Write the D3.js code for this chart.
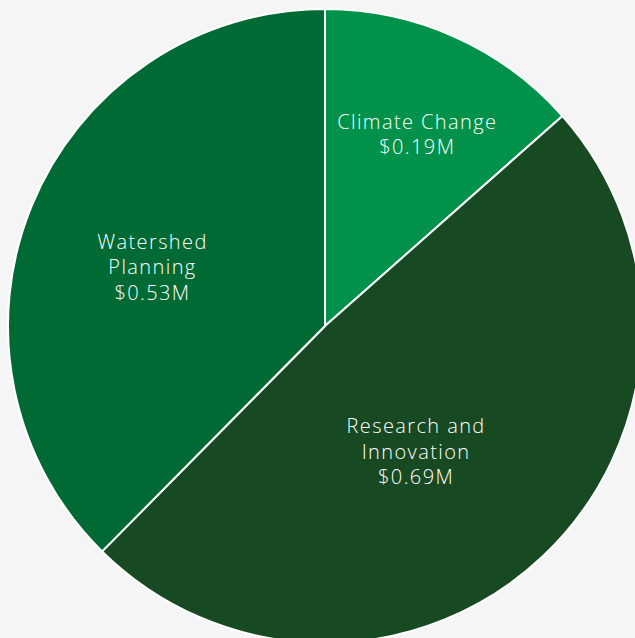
<!DOCTYPE html>
<html>
<head>
<meta charset="utf-8">
<script src="https://cdn.jsdelivr.net/npm/d3@7"></script>
<style>
  html, body { margin: 0; padding: 0; background: #f5f5f5; }
  svg { display: block; }
</style>
</head>
<body>
<svg id="chart" width="635" height="638"></svg>
<script>
// Funding by program area (millions of dollars)
const categories = ["Climate Change", "Research and Innovation", "Watershed Planning"];
const labelLines = [["Climate Change"], ["Research and", "Innovation"], ["Watershed", "Planning"]];
const values = [0.19, 0.69, 0.53];
const colors = ["#00924a", "#174a22", "#006a35"];

const width = 635, height = 638;
const cx = 325, cy = 326, radius = 317;

// Label anchor inside each slice: offset from the slice's mid-angle (degrees)
// and distance from the centre as a fraction of the radius.
const labelAngleShift = [1.5, 7.5, -3.5];
const labelRadiusFrac = [0.67, 0.49, 0.575];

const svg = d3.select("#chart");
svg.append("rect").attr("width", width).attr("height", height).attr("fill", "#f5f5f5");

const data = categories.map((c, i) => ({ name: c, value: values[i], lines: labelLines[i], color: colors[i] }));

const pie = d3.pie().sort(null).value(d => d.value);
const arc = d3.arc().innerRadius(0).outerRadius(radius);

const g = svg.append("g").attr("transform", `translate(${cx},${cy})`);
const arcs = pie(data);

g.selectAll("path.slice")
  .data(arcs)
  .join("path")
  .attr("class", "slice")
  .attr("d", arc)
  .attr("fill", d => d.data.color)
  .attr("stroke", "#ffffff")
  .attr("stroke-width", 2);

const fmt = v => "$" + d3.format(".2f")(v) + "M";
const lineH = 25.5;

g.selectAll("text.label")
  .data(arcs)
  .join("text")
  .attr("class", "label")
  .attr("text-anchor", "middle")
  .attr("fill", "#ffffff")
  .style("font-family", "'Century Gothic', 'URW Gothic', 'Open Sans', sans-serif")
  .style("font-weight", 300)
  .style("font-size", "20px")
  .style("letter-spacing", "1.4px")
  .each(function (d, i) {
    const a = (d.startAngle + d.endAngle) / 2 + labelAngleShift[i] * Math.PI / 180;
    const r = radius * labelRadiusFrac[i];
    const x = r * Math.sin(a), y = -r * Math.cos(a);
    const lines = d.data.lines.concat([fmt(d.data.value)]);
    const t = d3.select(this);
    const top = y - (lines.length - 1) * lineH / 2;
    lines.forEach((ln, k) => {
      t.append("tspan")
        .attr("x", x)
        .attr("y", top + k * lineH)
        .attr("dy", "0.35em")
        .text(ln);
    });
  });
</script>
</body>
</html>
